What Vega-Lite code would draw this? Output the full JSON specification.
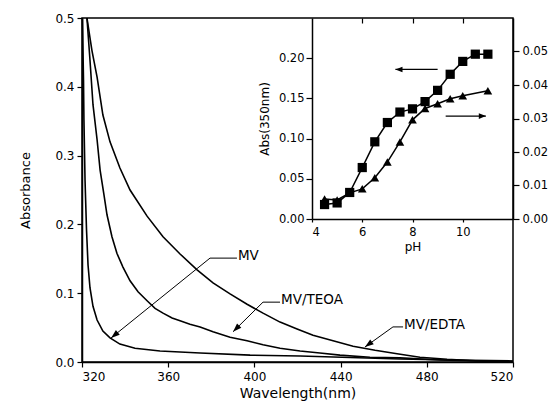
{
  "$schema": "https://vega.github.io/schema/vega-lite/v6.json",
  "width": 431,
  "height": 344,
  "autosize": {"type": "none"},
  "padding": {"left": 82, "top": 18, "right": 43, "bottom": 46},
  "background": "white",
  "config": {
    "view": {"stroke": "black", "strokeWidth": 1.5},
    "font": "DejaVu Sans",
    "axis": {
      "grid": false,
      "domainColor": "black",
      "tickColor": "black",
      "labelColor": "black",
      "titleColor": "black",
      "titleFontWeight": "normal",
      "domainWidth": 1.5,
      "tickWidth": 1.2,
      "labelFont": "DejaVu Sans",
      "titleFont": "DejaVu Sans"
    }
  },
  "datasets": {
    "spectra": [
      {"series": "MV/EDTA", "wavelength": 322.3, "abs": 0.5},
      {"series": "MV/EDTA", "wavelength": 324.6, "abs": 0.453},
      {"series": "MV/EDTA", "wavelength": 327.0, "abs": 0.414},
      {"series": "MV/EDTA", "wavelength": 329.7, "abs": 0.359},
      {"series": "MV/EDTA", "wavelength": 333.0, "abs": 0.32},
      {"series": "MV/EDTA", "wavelength": 337.6, "abs": 0.282},
      {"series": "MV/EDTA", "wavelength": 342.3, "abs": 0.25},
      {"series": "MV/EDTA", "wavelength": 350.2, "abs": 0.212},
      {"series": "MV/EDTA", "wavelength": 357.6, "abs": 0.182},
      {"series": "MV/EDTA", "wavelength": 365.5, "abs": 0.157},
      {"series": "MV/EDTA", "wavelength": 373.4, "abs": 0.134},
      {"series": "MV/EDTA", "wavelength": 380.8, "abs": 0.115},
      {"series": "MV/EDTA", "wavelength": 388.7, "abs": 0.099},
      {"series": "MV/EDTA", "wavelength": 396.6, "abs": 0.084},
      {"series": "MV/EDTA", "wavelength": 404.0, "abs": 0.071},
      {"series": "MV/EDTA", "wavelength": 411.9, "abs": 0.058},
      {"series": "MV/EDTA", "wavelength": 419.8, "abs": 0.048},
      {"series": "MV/EDTA", "wavelength": 427.2, "abs": 0.039},
      {"series": "MV/EDTA", "wavelength": 436.5, "abs": 0.031},
      {"series": "MV/EDTA", "wavelength": 445.8, "abs": 0.023},
      {"series": "MV/EDTA", "wavelength": 456.0, "abs": 0.017},
      {"series": "MV/EDTA", "wavelength": 466.2, "abs": 0.012},
      {"series": "MV/EDTA", "wavelength": 476.8, "abs": 0.007},
      {"series": "MV/EDTA", "wavelength": 489.4, "abs": 0.004},
      {"series": "MV/EDTA", "wavelength": 504.7, "abs": 0.0015},
      {"series": "MV/EDTA", "wavelength": 520.0, "abs": 0.0007},
      {"series": "MV/TEOA", "wavelength": 322.3, "abs": 0.5},
      {"series": "MV/TEOA", "wavelength": 323.7, "abs": 0.439},
      {"series": "MV/TEOA", "wavelength": 325.1, "abs": 0.374},
      {"series": "MV/TEOA", "wavelength": 327.0, "abs": 0.323},
      {"series": "MV/TEOA", "wavelength": 328.4, "abs": 0.279},
      {"series": "MV/TEOA", "wavelength": 330.2, "abs": 0.243},
      {"series": "MV/TEOA", "wavelength": 331.6, "abs": 0.214},
      {"series": "MV/TEOA", "wavelength": 333.9, "abs": 0.182},
      {"series": "MV/TEOA", "wavelength": 336.2, "abs": 0.158},
      {"series": "MV/TEOA", "wavelength": 339.0, "abs": 0.138},
      {"series": "MV/TEOA", "wavelength": 342.3, "abs": 0.118},
      {"series": "MV/TEOA", "wavelength": 346.0, "abs": 0.102},
      {"series": "MV/TEOA", "wavelength": 350.2, "abs": 0.089},
      {"series": "MV/TEOA", "wavelength": 353.9, "abs": 0.078},
      {"series": "MV/TEOA", "wavelength": 357.6, "abs": 0.071},
      {"series": "MV/TEOA", "wavelength": 361.8, "abs": 0.064},
      {"series": "MV/TEOA", "wavelength": 365.5, "abs": 0.06},
      {"series": "MV/TEOA", "wavelength": 370.1, "abs": 0.055},
      {"series": "MV/TEOA", "wavelength": 374.8, "abs": 0.051},
      {"series": "MV/TEOA", "wavelength": 380.8, "abs": 0.044},
      {"series": "MV/TEOA", "wavelength": 388.7, "abs": 0.036},
      {"series": "MV/TEOA", "wavelength": 396.6, "abs": 0.031},
      {"series": "MV/TEOA", "wavelength": 404.0, "abs": 0.025},
      {"series": "MV/TEOA", "wavelength": 411.9, "abs": 0.02},
      {"series": "MV/TEOA", "wavelength": 421.2, "abs": 0.016},
      {"series": "MV/TEOA", "wavelength": 430.4, "abs": 0.013},
      {"series": "MV/TEOA", "wavelength": 439.7, "abs": 0.01},
      {"series": "MV/TEOA", "wavelength": 453.6, "abs": 0.007},
      {"series": "MV/TEOA", "wavelength": 467.6, "abs": 0.006},
      {"series": "MV/TEOA", "wavelength": 486.1, "abs": 0.003},
      {"series": "MV/TEOA", "wavelength": 504.7, "abs": 0.0015},
      {"series": "MV/TEOA", "wavelength": 520.0, "abs": 0.0007},
      {"series": "MV", "wavelength": 320.2, "abs": 0.5},
      {"series": "MV", "wavelength": 320.7, "abs": 0.41},
      {"series": "MV", "wavelength": 320.9, "abs": 0.352},
      {"series": "MV", "wavelength": 321.4, "abs": 0.265},
      {"series": "MV", "wavelength": 322.1, "abs": 0.192},
      {"series": "MV", "wavelength": 322.8, "abs": 0.141},
      {"series": "MV", "wavelength": 323.7, "abs": 0.108},
      {"series": "MV", "wavelength": 325.1, "abs": 0.081},
      {"series": "MV", "wavelength": 327.0, "abs": 0.061},
      {"series": "MV", "wavelength": 329.7, "abs": 0.045},
      {"series": "MV", "wavelength": 333.0, "abs": 0.035},
      {"series": "MV", "wavelength": 337.6, "abs": 0.026},
      {"series": "MV", "wavelength": 344.6, "abs": 0.02},
      {"series": "MV", "wavelength": 356.2, "abs": 0.016},
      {"series": "MV", "wavelength": 374.8, "abs": 0.013},
      {"series": "MV", "wavelength": 398.0, "abs": 0.01},
      {"series": "MV", "wavelength": 421.2, "abs": 0.0087},
      {"series": "MV", "wavelength": 444.4, "abs": 0.0065},
      {"series": "MV", "wavelength": 467.6, "abs": 0.0044},
      {"series": "MV", "wavelength": 490.8, "abs": 0.003},
      {"series": "MV", "wavelength": 520.0, "abs": 0.0015}
    ],
    "arrows": [
      {"id": "MV", "step": 1, "wavelength": 391.9, "abs": 0.151},
      {"id": "MV", "step": 2, "wavelength": 379.4, "abs": 0.151},
      {"id": "MV", "step": 3, "wavelength": 333.5, "abs": 0.035},
      {"id": "MV/TEOA", "step": 1, "wavelength": 411.9, "abs": 0.087},
      {"id": "MV/TEOA", "step": 2, "wavelength": 404.0, "abs": 0.087},
      {"id": "MV/TEOA", "step": 3, "wavelength": 390.1, "abs": 0.044},
      {"id": "MV/EDTA", "step": 1, "wavelength": 469.0, "abs": 0.051},
      {"id": "MV/EDTA", "step": 2, "wavelength": 464.3, "abs": 0.051},
      {"id": "MV/EDTA", "step": 3, "wavelength": 451.3, "abs": 0.0218}
    ],
    "labels": [
      {"label": "MV", "wavelength": 391.9, "abs": 0.151},
      {"label": "MV/TEOA", "wavelength": 411.9, "abs": 0.087},
      {"label": "MV/EDTA", "wavelength": 469.0, "abs": 0.051}
    ],
    "squares": [
      {"pH": 4.5, "abs350": 0.018},
      {"pH": 5.0, "abs350": 0.02},
      {"pH": 5.5, "abs350": 0.033},
      {"pH": 6.0, "abs350": 0.064},
      {"pH": 6.5, "abs350": 0.096},
      {"pH": 7.0, "abs350": 0.12},
      {"pH": 7.5, "abs350": 0.133},
      {"pH": 8.0, "abs350": 0.137},
      {"pH": 8.5, "abs350": 0.146},
      {"pH": 9.0, "abs350": 0.16},
      {"pH": 9.5, "abs350": 0.18},
      {"pH": 10.0, "abs350": 0.196},
      {"pH": 10.5, "abs350": 0.205},
      {"pH": 11.0, "abs350": 0.205}
    ],
    "triangles": [
      {"pH": 4.5, "absR": 0.006},
      {"pH": 5.0, "absR": 0.0057},
      {"pH": 5.5, "absR": 0.0078},
      {"pH": 6.0, "absR": 0.009},
      {"pH": 6.5, "absR": 0.0123},
      {"pH": 7.0, "absR": 0.017},
      {"pH": 7.5, "absR": 0.023},
      {"pH": 8.0, "absR": 0.0296},
      {"pH": 8.5, "absR": 0.033},
      {"pH": 9.0, "absR": 0.0344},
      {"pH": 9.5, "absR": 0.0359},
      {"pH": 10.0, "absR": 0.0368},
      {"pH": 11.0, "absR": 0.0383}
    ],
    "insetArrows": [
      {"id": "L", "step": 1, "pH": 9.0, "abs350": 0.186},
      {"id": "L", "step": 2, "pH": 7.32, "abs350": 0.186},
      {"id": "R", "step": 1, "pH": 9.32, "abs350": 0.128},
      {"id": "R", "step": 2, "pH": 10.92, "abs350": 0.128}
    ]
  },
  "layer": [
    {
      "layer": [
        {
          "data": {"name": "spectra"},
          "mark": {"type": "line", "color": "black", "strokeWidth": 1.6},
          "encoding": {
            "x": {"field": "wavelength", "type": "quantitative", "scale": {"domain": [320, 520], "nice": false},
              "axis": {"orient": "bottom", "values": [320, 360, 400, 440, 480, 520], "title": "Wavelength(nm)", "labelFontSize": 12, "titleFontSize": 14, "tickSize": 5, "labelPadding": 4, "titlePadding": 4}},
            "y": {"field": "abs", "type": "quantitative", "scale": {"domain": [0, 0.5], "nice": false},
              "axis": {"orient": "left", "values": [0, 0.1, 0.2, 0.3, 0.4, 0.5], "format": ".1f", "title": "Absorbance", "labelFontSize": 12, "titleFontSize": 13, "tickSize": 5, "labelPadding": 3, "titlePadding": 22}},
            "detail": {"field": "series"},
            "order": {"field": "wavelength"}
          }
        },
        {
          "data": {"name": "arrows"},
          "mark": {"type": "line", "color": "black", "strokeWidth": 1},
          "encoding": {
            "x": {"field": "wavelength", "type": "quantitative"},
            "y": {"field": "abs", "type": "quantitative"},
            "detail": {"field": "id"},
            "order": {"field": "step"}
          }
        },
        {
          "data": {"name": "arrows"},
          "transform": [{"filter": "datum.id === 'MV' && datum.step === 3"}],
          "mark": {"type": "point", "shape": "M0,0 L0.35,1 L-0.35,1 Z", "filled": true, "color": "black", "opacity": 1, "size": 300, "angle": 231},
          "encoding": {"x": {"field": "wavelength", "type": "quantitative"}, "y": {"field": "abs", "type": "quantitative"}}
        },
        {
          "data": {"name": "arrows"},
          "transform": [{"filter": "datum.id === 'MV/TEOA' && datum.step === 3"}],
          "mark": {"type": "point", "shape": "M0,0 L0.35,1 L-0.35,1 Z", "filled": true, "color": "black", "opacity": 1, "size": 300, "angle": 225},
          "encoding": {"x": {"field": "wavelength", "type": "quantitative"}, "y": {"field": "abs", "type": "quantitative"}}
        },
        {
          "data": {"name": "arrows"},
          "transform": [{"filter": "datum.id === 'MV/EDTA' && datum.step === 3"}],
          "mark": {"type": "point", "shape": "M0,0 L0.35,1 L-0.35,1 Z", "filled": true, "color": "black", "opacity": 1, "size": 300, "angle": 234},
          "encoding": {"x": {"field": "wavelength", "type": "quantitative"}, "y": {"field": "abs", "type": "quantitative"}}
        },
        {
          "data": {"name": "labels"},
          "mark": {"type": "text", "align": "left", "baseline": "alphabetic", "fontSize": 13.5, "color": "black", "dx": 1, "dy": 2},
          "encoding": {
            "x": {"field": "wavelength", "type": "quantitative"},
            "y": {"field": "abs", "type": "quantitative"},
            "text": {"field": "label"}
          }
        }
      ]
    },
    {
      "layer": [
        {
          "data": {"name": "squares"},
          "mark": {"type": "line", "color": "black", "strokeWidth": 1.5},
          "encoding": {
            "x": {"field": "pH", "type": "quantitative", "scale": {"domain": [4, 12], "range": [230, 431], "nice": false},
              "axis": {"orient": "bottom", "offset": -143, "values": [4, 6, 8, 10], "title": "pH", "labelFontSize": 11.5, "titleFontSize": 12, "tickSize": 3, "labelPadding": 4, "titlePadding": 4}},
            "y": {"field": "abs350", "type": "quantitative", "scale": {"domain": [0, 0.25], "range": [201, 0], "nice": false},
              "axis": {"orient": "left", "offset": -230, "values": [0, 0.05, 0.1, 0.15, 0.2], "format": ".2f", "title": "Abs(350nm)", "labelFontSize": 11.5, "titleFontSize": 12, "tickSize": 6, "labelPadding": 2, "titlePadding": 7}},
            "order": {"field": "pH"}
          }
        },
        {
          "data": {"name": "squares"},
          "mark": {"type": "point", "shape": "square", "filled": true, "color": "black", "opacity": 1, "size": 85},
          "encoding": {"x": {"field": "pH", "type": "quantitative"}, "y": {"field": "abs350", "type": "quantitative"}}
        },
        {
          "data": {"name": "insetArrows"},
          "mark": {"type": "line", "color": "black", "strokeWidth": 1.2},
          "encoding": {
            "x": {"field": "pH", "type": "quantitative"},
            "y": {"field": "abs350", "type": "quantitative"},
            "detail": {"field": "id"},
            "order": {"field": "step"}
          }
        },
        {
          "data": {"name": "insetArrows"},
          "transform": [{"filter": "datum.id === 'L' && datum.step === 2"}],
          "mark": {"type": "point", "shape": "M0,0 L0.4,1 L-0.4,1 Z", "filled": true, "color": "black", "opacity": 1, "size": 200, "angle": 270},
          "encoding": {"x": {"field": "pH", "type": "quantitative"}, "y": {"field": "abs350", "type": "quantitative"}}
        },
        {
          "data": {"name": "insetArrows"},
          "transform": [{"filter": "datum.id === 'R' && datum.step === 2"}],
          "mark": {"type": "point", "shape": "M0,0 L0.4,1 L-0.4,1 Z", "filled": true, "color": "black", "opacity": 1, "size": 200, "angle": 90},
          "encoding": {"x": {"field": "pH", "type": "quantitative"}, "y": {"field": "abs350", "type": "quantitative"}}
        }
      ]
    },
    {
      "layer": [
        {
          "data": {"name": "triangles"},
          "mark": {"type": "line", "color": "black", "strokeWidth": 1.5},
          "encoding": {
            "x": {"field": "pH", "type": "quantitative", "scale": {"domain": [4, 12], "range": [230, 431], "nice": false},
              "axis": {"orient": "top", "values": [6, 8, 10], "labels": false, "domain": false, "title": null, "tickSize": -5}},
            "y": {"field": "absR", "type": "quantitative", "scale": {"domain": [0, 0.06], "range": [201, 0], "nice": false},
              "axis": {"orient": "right", "values": [0, 0.01, 0.02, 0.03, 0.04, 0.05], "format": ".2f", "title": null, "labelFontSize": 11.5, "tickSize": 6, "labelPadding": 3}},
            "order": {"field": "pH"}
          }
        },
        {
          "data": {"name": "triangles"},
          "mark": {"type": "point", "shape": "triangle-up", "filled": true, "color": "black", "opacity": 1, "size": 75},
          "encoding": {"x": {"field": "pH", "type": "quantitative"}, "y": {"field": "absR", "type": "quantitative"}}
        }
      ]
    }
  ],
  "resolve": {"scale": {"x": "independent", "y": "independent"}}
}
